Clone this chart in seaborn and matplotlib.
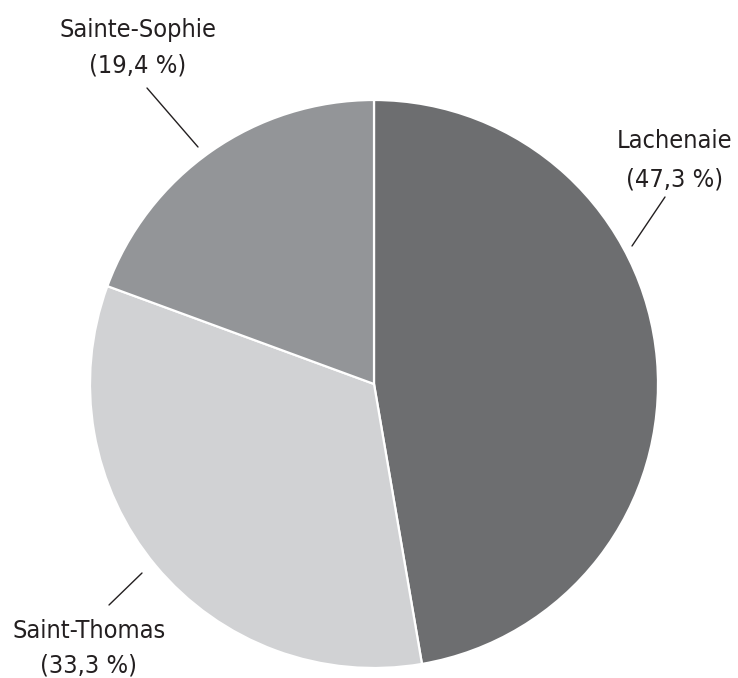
import matplotlib
matplotlib.use("Agg")
import matplotlib.pyplot as plt
import seaborn as sns

labels = ["Lachenaie", "Saint-Thomas", "Sainte-Sophie"]
values = [47.3, 33.3, 19.4]
pct_labels = ["47,3 %", "33,3 %", "19,4 %"]
colors = ["#6d6e70", "#d1d2d4", "#939598"]

sns.set_theme(style="white")
plt.rcParams["font.family"] = ["DejaVu Sans"]

W, H = 738, 678
cx, cy, R = 374, 384, 284
fig = plt.figure(figsize=(W / 100, H / 100), dpi=100)
ax = fig.add_axes([0, 0, 1, 1])
ax.pie(values, colors=colors, startangle=90, counterclock=False,
       wedgeprops=dict(edgecolor="white", linewidth=1.6))
ax.set_aspect("auto")
ax.set_xlim(-cx / R, (W - cx) / R)
ax.set_ylim(-(H - cy) / R, cy / R)
ax.axis("off")

def px(x, y):
    return ((x - cx) / R, (cy - y) / R)

# (x center, line-1 y, line-2 y) in pixels
label_pos = {
    "Lachenaie": (675, 139, 177),
    "Saint-Thomas": (89, 628, 663),
    "Sainte-Sophie": (138, 27, 63),
}
lines = {
    "Lachenaie": ((665, 197), (632, 246)),
    "Saint-Thomas": ((142, 573), (109, 605)),
    "Sainte-Sophie": ((147, 88), (198, 147)),
}
for lab, pct in zip(labels, pct_labels):
    xc, y1, y2 = label_pos[lab]
    for txt, yy in ((lab, y1), (f"({pct})", y2)):
        x, y = px(xc, yy)
        ax.text(x, y, txt, ha="center", va="center_baseline",
                fontsize=18.2, fontstretch="condensed", color="#231f20")
    (x1, yy1), (x2, yy2) = lines[lab]
    a, b = px(x1, yy1)
    c, d = px(x2, yy2)
    ax.plot([a, c], [b, d], color="#231f20", lw=1.0)

fig.savefig("out.png", dpi=100, facecolor="white")
